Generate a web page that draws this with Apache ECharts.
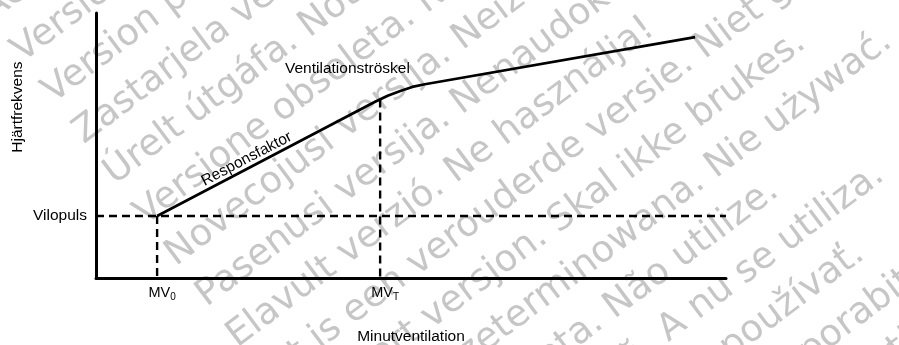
<!DOCTYPE html>
<html><head><meta charset="utf-8">
<script src="https://cdn.jsdelivr.net/npm/echarts@6/dist/echarts.min.js"></script>
<style>html,body{margin:0;padding:0;background:#fff}#c{width:899px;height:345px}</style>
</head><body><div id="c"></div>
<script>
// ---- data (arbitrary diagram units, 0..100 on both axes) ----
const curveX = [9.7, 44.3, 46.3, 48.3, 50.2, 52.2, 95.1];
const curveY = [23.4, 66.5, 68.8, 70.6, 72.1, 73.1, 90.9];
const restPulse = 23.4;
const mv0 = 9.7;
const mvT = 45.1;
const rateAtMvT = 67.4;
const xTickValues = [mv0, mvT];
const xTickMain = ['MV', 'MV'];
const xTickSub = ['0', 'T'];
const yTickLabel = 'Vilopuls';
const xName = 'Minutventilation';
const yName = 'Hjärtfrekvens';
const thresholdLabel = 'Ventilationströskel';
const slopeLabel = 'Responsfaktor';
const watermarkLines = [
  'Aegunud versioon. Ärge kasutage.',
  'Versión obsoleta. No utilizar.',
  'Version périmée. Ne pas utiliser.',
  'Zastarjela verzija. Nemojte upotrebljavati.',
  'Úrelt útgáfa. Notið ekki.',
  'Versione obsoleta. Non utilizzare.',
  'Novecojusi versija. Neizmantot.',
  'Pasenusi versija. Nenaudokite.',
  'Elavult verzió. Ne használja!',
  'Dit is een verouderde versie. Niet gebruiken.',
  'Utdatert versjon. Skal ikke brukes.',
  'Wersja przeterminowana. Nie używać.',
  'Versão obsoleta. Não utilize.',
  'Versiune expirată. A nu se utiliza.',
  'Zastaraná verzia. Nepoužívať.',
  'Zastarela različica. Ne uporabite.',
  'Vanhentunut versio. Älä käytä.',
  'Föråldrad version. Använd ej.',
  'Güncel olmayan sürüm. Kullanmayın.'
];

const FONT = '"Liberation Sans", Arial, Helvetica, sans-serif';
const chart = echarts.init(document.getElementById('c'), null, {renderer: 'canvas'});

function dashed(data) {
  return {type: 'line', data: data, symbol: 'none', silent: true, z: 4,
    lineStyle: {color: '#000', width: 2.4, type: [8, 5]}};
}

chart.setOption({
  animation: false,
  grid: {left: 96, right: 173, top: 13, bottom: 67, containLabel: false, outerBoundsMode: 'none'},
  xAxis: {
    type: 'value', min: 0, max: 100,
    splitLine: {show: false}, axisTick: {show: false},
    axisLine: {show: true, onZero: false, lineStyle: {color: '#000', width: 3}},
    axisLabel: {
      customValues: xTickValues, margin: 6, padding: [0, 0, 0, 10],
      formatter: function (v) {
        let i = 0, best = Infinity;
        xTickValues.forEach(function (t, j) { if (Math.abs(t - v) < best) { best = Math.abs(t - v); i = j; } });
        return '{m|' + xTickMain[i] + '}{s|' + xTickSub[i] + '}';
      },
      rich: {
        m: {fontFamily: FONT, fontSize: 14.5, color: '#000'},
        s: {fontFamily: FONT, fontSize: 10, color: '#000', padding: [8, 0, 0, 0]}
      }
    },
    name: xName, nameLocation: 'middle', nameGap: 51,
    nameTextStyle: {fontFamily: FONT, fontSize: 15.5, color: '#000'}
  },
  yAxis: {
    type: 'value', min: 0, max: 100,
    splitLine: {show: false}, axisTick: {show: false},
    axisLine: {show: true, onZero: false, lineStyle: {color: '#000', width: 3}},
    axisLabel: {customValues: [restPulse], margin: 9, formatter: function () { return yTickLabel; },
      fontFamily: FONT, fontSize: 15.5, color: '#000'}
  },
  series: [
    {type: 'line', data: curveX.map(function (x, i) { return [x, curveY[i]]; }), symbol: 'none', silent: true, z: 5,
      lineStyle: {color: '#000', width: 2.7, join: 'round'}},
    dashed([[0, restPulse], [100, restPulse]]),
    dashed([[mv0, restPulse], [mv0, 0]]),
    dashed([[mvT, rateAtMvT], [mvT, 0]])
  ]
});

function px(p) { return chart.convertToPixel({gridIndex: 0}, p); }

// watermark: parallel rotated lines, left-aligned in the rotated frame
const ang = 37 * Math.PI / 180;
const P0 = 3, SP = 51, U0 = -20;
const wm = watermarkLines.map(function (t, k) {
  const p = P0 + k * SP, u = U0;
  return {type: 'text', silent: true, z: -1,
    x: u * Math.cos(ang) + p * Math.sin(ang),
    y: -u * Math.sin(ang) + p * Math.cos(ang),
    rotation: ang,
    style: {text: t, fill: '#c6c6c6', font: '37px "DejaVu Sans", Verdana, sans-serif',
      textAlign: 'left', textVerticalAlign: 'middle', verticalAlign: 'middle'}};
});

// annotations
const a = px([curveX[0], curveY[0]]), b = px([curveX[1], curveY[1]]);
const segAng = Math.atan2(a[1] - b[1], b[0] - a[0]);
const tt = 0.43, off = 9;
const mx = a[0] + (b[0] - a[0]) * tt - off * Math.sin(segAng);
const my = a[1] + (b[1] - a[1]) * tt - off * Math.cos(segAng);
const th = px([30, 78.9]);
const yMid = px([0, 64.5]);

chart.setOption({
  graphic: wm.concat([
    {type: 'text', z: 10, silent: true, x: mx, y: my, rotation: segAng,
      style: {text: slopeLabel, fill: '#000', font: '15.5px ' + FONT, textAlign: 'center', textVerticalAlign: 'middle', verticalAlign: 'middle'}},
    {type: 'text', z: 10, silent: true, x: th[0], y: th[1],
      style: {text: thresholdLabel, fill: '#000', font: '15.5px ' + FONT, textAlign: 'left', textVerticalAlign: 'middle', verticalAlign: 'middle'}},
    {type: 'text', z: 10, silent: true, x: 18, y: yMid[1], rotation: Math.PI / 2,
      style: {text: yName, fill: '#000', font: '15.5px ' + FONT, textAlign: 'center', textVerticalAlign: 'middle', verticalAlign: 'middle'}}
  ])
});
</script></body></html>
